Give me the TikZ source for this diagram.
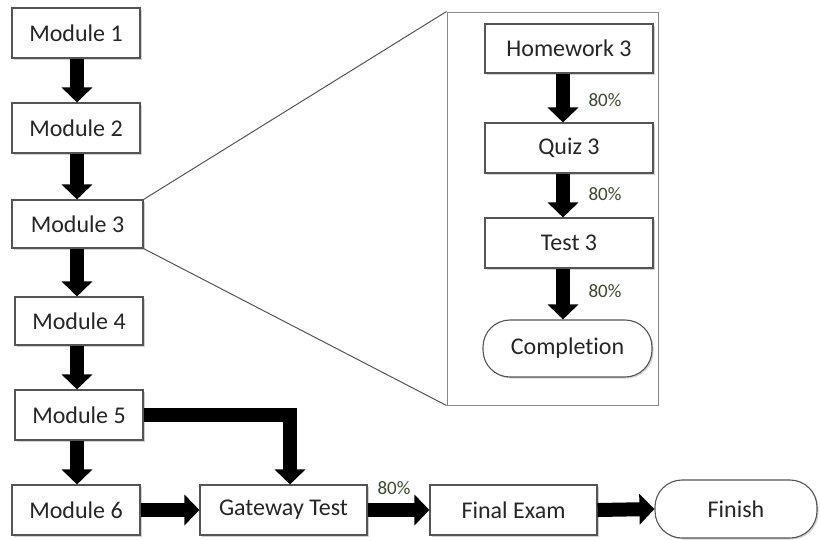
\documentclass[tikz,border=0pt]{standalone}
\usepackage{fontspec}
\setmainfont{Carlito}[Ligatures={NoCommon,NoRare,NoDiscretionary}]
\usetikzlibrary{arrows.meta,shadows}
\definecolor{txt}{HTML}{262626}
\definecolor{pct}{HTML}{3A4A2E}
\definecolor{edge}{HTML}{555555}
\begin{document}
\begin{tikzpicture}[x=1pt,y=-1pt,
  box/.style={draw=edge, line width=1.1pt, fill=white, rectangle, text=txt,
    minimum width=128pt, minimum height=50pt, inner sep=0pt,
    font=\fontsize{24}{28}\selectfont,
    drop shadow={opacity=0.35, shadow xshift=1.5pt, shadow yshift=-1.5pt}},
  term/.style={box, rounded corners=27pt},
  bigarrow/.style={draw=black, line width=14pt, -{Triangle[width=30pt,length=15pt]}},
  pctlabel/.style={text=pct, font=\fontsize{19}{22}\selectfont, inner sep=0pt}]
\useasboundingbox (0,0) rectangle (820,539);
\fill[white] (0,0) rectangle (820,539);
% main column
\node[box] (m1) at (76,33) {Module 1};
\node[box] (m2) at (76,128) {Module 2};
\node[box, minimum width=131pt, minimum height=48pt] (m3) at (77.5,224) {Module 3};
\node[box, minimum height=48pt] (m4) at (79,321) {Module 4};
\node[box] (m5) at (79,415) {Module 5};
\node[box] (m6) at (76,510) {Module 6};
\node[box, minimum width=167pt] (gw) at (283.5,510) {Gateway Test};
\node[box, minimum width=167pt] (fe) at (513.5,510) {Final Exam};
\node[term, minimum width=162pt, minimum height=58pt] (fin) at (736,509) {Finish};
% zoom frame
\node[draw=edge!70, line width=1pt, rectangle, minimum width=211pt, minimum height=393pt, inner sep=0pt] (frame) at (552.5,208.5) {};
\node[box, minimum width=168pt, minimum height=49pt] (hw) at (569,48.5) {Homework 3};
\node[box, minimum width=168pt] (qz) at (569,148) {Quiz 3};
\node[box, minimum width=168pt] (t3) at (569,243) {Test 3};
\node[term, minimum width=169pt, minimum height=57pt] (comp) at (567.5,348.5) {Completion};
% zoom lines
\draw[edge, line width=1pt] (m3.north east) -- (frame.north west);
\draw[edge, line width=1pt] (m3.south east) -- (frame.south west);
% helper coordinates
\coordinate (mx) at (77,0);
\coordinate (ix) at (563,0);
\coordinate (vx) at (290,0);
% main arrows
\draw[bigarrow] (m1.south -| mx) -- (m2.north -| mx);
\draw[bigarrow] (m2.south -| mx) -- (m3.north -| mx);
\draw[bigarrow] (m3.south -| mx) -- (m4.north -| mx);
\draw[bigarrow] (m4.south -| mx) -- (m5.north -| mx);
\draw[bigarrow] (m5.south -| mx) -- (m6.north -| mx);
\draw[bigarrow, line join=miter] (m5.east) -| (gw.north -| vx);
\draw[bigarrow] (m6.east) -- (gw.west);
\draw[bigarrow] (gw.east) -- (fe.west);
\draw[bigarrow] (fe.east) -- (fin.west);
\node[pctlabel] (p0) at (394,488) {80\%};
% inset arrows
\draw[bigarrow] (hw.south -| ix) -- (qz.north -| ix);
\draw[bigarrow] (qz.south -| ix) -- (t3.north -| ix);
\draw[bigarrow] (t3.south -| ix) -- (comp.north -| ix);
\node[pctlabel] (p1) at (605,100) {80\%};
\node[pctlabel] (p2) at (605,194) {80\%};
\node[pctlabel] (p3) at (605,291) {80\%};
\end{tikzpicture}
\end{document}
